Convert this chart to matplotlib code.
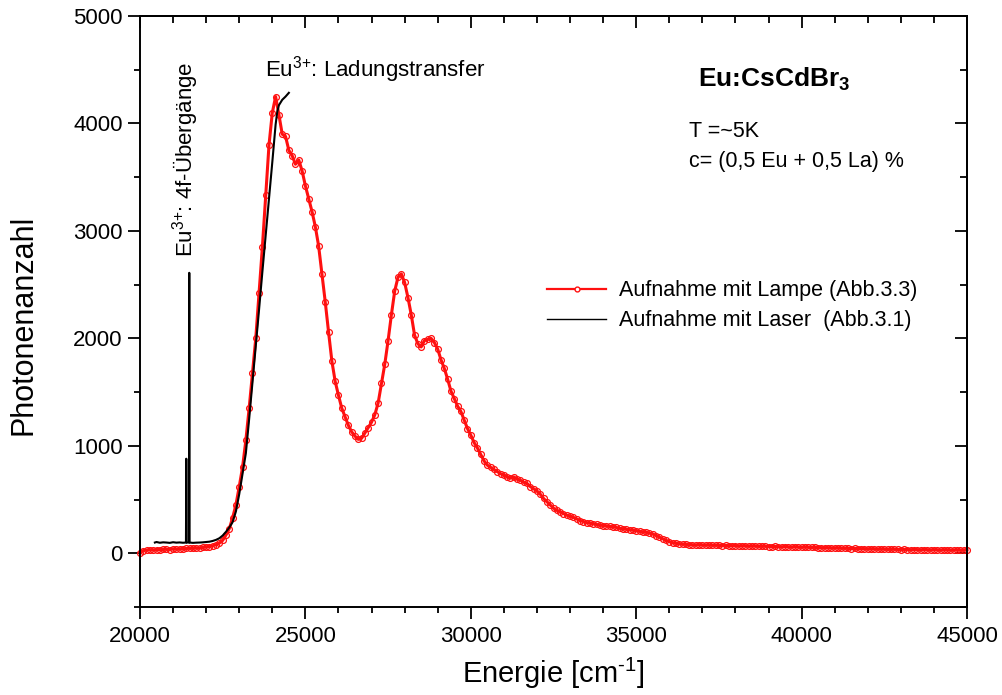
import matplotlib

matplotlib.use("Agg")
import matplotlib.pyplot as plt
import numpy as np
from matplotlib.lines import Line2D
from matplotlib.ticker import MultipleLocator

plt.rcParams.update(
    {
        "font.family": "Liberation Sans",
        "mathtext.fontset": "custom",
        "mathtext.rm": "Liberation Sans",
        "mathtext.it": "Liberation Sans:italic",
        "mathtext.bf": "Liberation Sans:bold",
    }
)

lamp_x = np.arange(20000, 45001, 100)
lamp_y = np.array([
    5, 25, 30, 32, 30, 35, 33, 36, 38, 35,
    40, 38, 42, 40, 45, 48, 45, 50, 48, 55,
    58, 62, 70, 80, 95, 120, 170, 230, 330, 450,
    620, 800, 1050, 1350, 1680, 2000, 2420, 2850, 3330, 3800,
    4100, 4250, 4080, 3900, 3880, 3750, 3700, 3620, 3660, 3560,
    3420, 3300, 3180, 3040, 2860, 2600, 2340, 2060, 1790, 1600,
    1470, 1350, 1270, 1190, 1130, 1090, 1060, 1070, 1120, 1170,
    1220, 1290, 1400, 1580, 1760, 1980, 2220, 2440, 2570, 2600,
    2520, 2380, 2220, 2030, 1950, 1920, 1980, 1990, 2000, 1960,
    1900, 1800, 1720, 1620, 1510, 1440, 1370, 1320, 1240, 1160,
    1100, 1030, 980, 920, 860, 820, 800, 780, 760, 740,
    730, 710, 700, 710, 690, 680, 660, 650, 620, 600,
    580, 550, 510, 480, 450, 420, 400, 385, 370, 355,
    345, 335, 320, 305, 295, 285, 280, 275, 268, 262,
    258, 255, 250, 248, 240, 232, 228, 225, 220, 215,
    210, 205, 198, 195, 188, 180, 165, 150, 135, 120,
    108, 98, 92, 88, 85, 82, 80, 78, 77, 79,
    76, 77, 75, 74, 76, 73, 72, 74, 71, 70,
    72, 69, 68, 70, 67, 66, 68, 65, 64, 66,
    63, 62, 64, 61, 60, 62, 59, 58, 60, 57,
    56, 57, 55, 54, 55, 53, 52, 53, 50, 49,
    51, 48, 47, 48, 45, 44, 46, 43, 42, 43,
    41, 40, 41, 39, 38, 39, 37, 36, 38, 36,
    35, 36, 34, 33, 35, 33, 32, 34, 32, 31,
    33, 31, 30, 32, 30, 29, 31, 30, 29, 31,
    32,
])

# laser spectrum (Abb. 3.1), incl. the two narrow 4f lines
laser_x = np.array([
    20450, 20500, 20600, 20700, 20800, 20900, 21000, 21100, 21200, 21300,
    21390, 21400, 21410, 21480, 21490, 21500, 21600, 21700, 21800, 21900,
    22000, 22100, 22200, 22300, 22400, 22500, 22600, 22700, 22800, 22900,
    23000, 23100, 23200, 23300, 23400, 23500, 23600, 23700, 23800, 23900,
    24000, 24100, 24150, 24200, 24300, 24400, 24500,
])
laser_y = np.array([
    100, 105, 98, 102, 100, 97, 103, 99, 101, 98,
    100, 880, 100, 100, 2610, 100, 97, 99, 100, 102,
    105, 108, 115, 125, 140, 165, 200, 240, 290, 390,
    550, 740, 930, 1250, 1590, 1930, 2270, 2620, 2960, 3300,
    3640, 3990, 4110, 4170, 4220, 4250, 4285,
])

fig = plt.figure(figsize=(10.02, 6.95), dpi=100)
ax = fig.add_axes([0.1397, 0.1266, 0.8254, 0.8504])

ax.plot(lamp_x, lamp_y, color="#ff1010", lw=2.2, marker="o", ms=4.2,
        mfc="none", mew=0.9, clip_on=False, zorder=2)
ax.plot(laser_x, laser_y, color="black", lw=1.5, zorder=3)

ax.set_xlim(20000, 45000)
ax.set_ylim(-500, 5000)
ax.xaxis.set_major_locator(MultipleLocator(5000))
ax.xaxis.set_minor_locator(MultipleLocator(1000))
ax.yaxis.set_major_locator(MultipleLocator(1000))
ax.yaxis.set_minor_locator(MultipleLocator(500))
ax.set_yticks([0, 1000, 2000, 3000, 4000, 5000])
ax.tick_params(which="both", direction="out", width=1.3, labelsize=16, colors="black")
ax.tick_params(which="major", length=8.5)
ax.tick_params(which="minor", length=4)
ax.tick_params(axis="x", pad=5)
ax.tick_params(axis="y", pad=4)
for sp in ax.spines.values():
    sp.set_linewidth(1.4)

# inward ticks on top and right, as in the original
top = ax.secondary_xaxis("top")
top.xaxis.set_major_locator(MultipleLocator(5000))
top.xaxis.set_minor_locator(MultipleLocator(1000))
top.tick_params(which="both", direction="in", width=1.3, labeltop=False)
top.tick_params(which="major", length=8.5)
top.tick_params(which="minor", length=5)
top.spines["top"].set_linewidth(1.4)
right = ax.secondary_yaxis("right")
right.yaxis.set_major_locator(MultipleLocator(1000))
right.yaxis.set_minor_locator(MultipleLocator(500))
right.tick_params(which="both", direction="in", width=1.3, labelright=False)
right.tick_params(which="major", length=8.5)
right.tick_params(which="minor", length=5)
right.spines["right"].set_linewidth(1.4)

ax.set_xlabel("Energie [cm$^{\u20101}$]", fontsize=21, va="baseline")
ax.xaxis.set_label_coords(0.5, -0.1286)
ax.set_ylabel("Photonenanzahl", fontsize=22, va="center")
ax.yaxis.set_label_coords(-0.141, 0.477)

ax.text(21375, 2758, "Eu$^{3{+}}$: 4f-Übergänge", rotation=90, ha="center", va="bottom", fontsize=16)
ax.text(23779, 4436, "Eu$^{3{+}}$: Ladungstransfer", ha="left", va="baseline", fontsize=16)
ax.text(36868, 4337, r"Eu:CsCdBr$_{\mathbf{3}}$", ha="left", va="baseline", fontsize=19,
        fontweight="bold")
ax.text(36604, 3872, "T =~5K", ha="left", va="baseline", fontsize=15.5)
ax.text(36604, 3592, "c= (0,5 Eu + 0,5 La) %", ha="left", va="baseline", fontsize=15.5)

handles = [
    Line2D([], [], color="#ff1010", lw=1.6, marker="o", ms=3.5, mfc="white", mew=1.0),
    Line2D([], [], color="black", lw=1.0),
]
labels = ["Aufnahme mit Lampe (Abb.3.3)", "Aufnahme mit Laser  (Abb.3.1)"]
ax.legend(handles, labels, loc="upper left", bbox_to_anchor=(0.4921, 0.553), frameon=False,
          fontsize=15.5, borderpad=0, borderaxespad=0, handlelength=2.75, handletextpad=0.6,
          labelspacing=0.42)

fig.savefig("out.png", dpi=100)
